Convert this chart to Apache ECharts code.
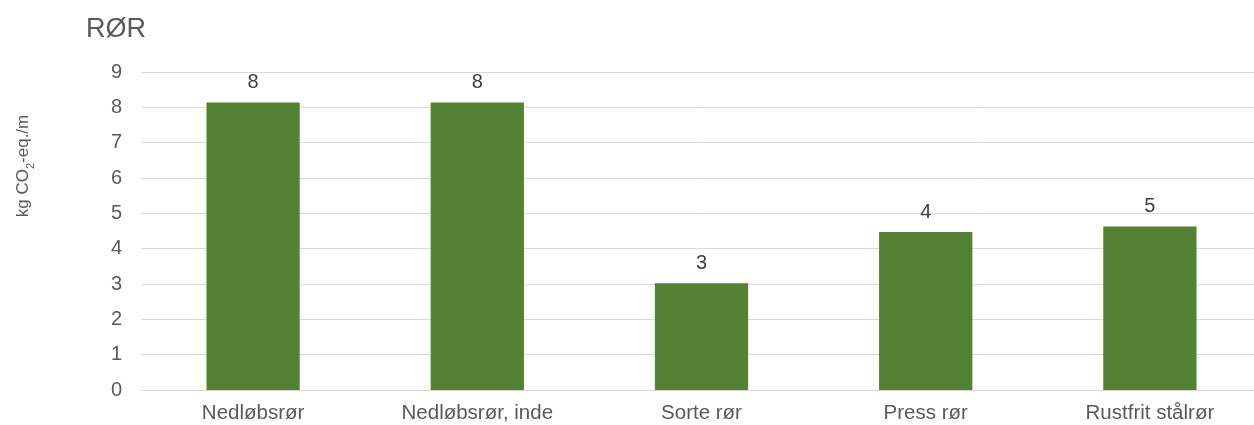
<!DOCTYPE html>
<html>
<head>
<meta charset="utf-8">
<script src="https://cdn.jsdelivr.net/npm/echarts@6/dist/echarts.min.js"></script>
<style>
  html, body { margin: 0; padding: 0; background: #ffffff; overflow: hidden; }
  /* the plot area runs slightly past the right edge of the window */
  #chart { width: 1262px; height: 425px; }
</style>
</head>
<body>
<div id="chart"></div>
<script>
// Pipe types and their embodied carbon per metre
const categories = ['Nedløbsrør', 'Nedløbsrør, inde', 'Sorte rør', 'Press rør', 'Rustfrit stålrør'];
const values = [8.14, 8.14, 3.02, 4.47, 4.63];
const yTicks = [0, 1, 2, 3, 4, 5, 6, 7, 8, 9];

const textColor = '#595959';
const fontFamily = 'Liberation Sans, Arial, sans-serif';

const chart = echarts.init(document.getElementById('chart'), null, { renderer: 'canvas' });

chart.setOption({
  animation: false,
  backgroundColor: '#ffffff',
  title: {
    text: 'RØR',
    left: 81,
    top: 11,
    textStyle: { color: textColor, fontSize: 27, fontWeight: 'normal', fontFamily: fontFamily }
  },
  // unit label for the value axis, with a subscript 2
  graphic: [{
    type: 'text',
    x: 21,
    y: 166,
    rotation: Math.PI / 2,
    style: {
      text: '{a|kg CO}{s|2}{a|-eq./m}',
      align: 'center',
      verticalAlign: 'middle',
      rich: {
        a: { fill: textColor, fontSize: 17, fontFamily: fontFamily, lineHeight: 22, verticalAlign: 'bottom' },
        s: { fill: textColor, fontSize: 11, fontFamily: fontFamily, lineHeight: 22, verticalAlign: 'bottom', padding: [0, 0, -4, 0] }
      }
    }
  }],
  grid: { left: 141, top: 72, bottom: 35, right: 0, containLabel: false },
  xAxis: {
    type: 'category',
    data: categories,
    axisLine: { show: true, lineStyle: { color: '#d9d9d9', width: 1 } },
    axisTick: { show: false },
    axisLabel: { color: textColor, fontSize: 20.5, fontFamily: fontFamily, margin: 13, interval: 0 }
  },
  yAxis: {
    type: 'value',
    min: yTicks[0],
    max: yTicks[yTicks.length - 1],
    interval: 1,
    axisLine: { show: false },
    axisTick: { show: false },
    splitLine: { show: true, lineStyle: { color: '#d9d9d9', width: 1 } },
    axisLabel: { color: textColor, fontSize: 20, fontFamily: fontFamily, margin: 19 }
  },
  series: [{
    type: 'bar',
    data: values,
    barWidth: '41.6%',
    itemStyle: { color: '#548235' },
    label: {
      show: true,
      position: 'top',
      distance: 10,
      color: '#404040',
      fontSize: 20,
      fontFamily: fontFamily,
      formatter: (p) => String(Math.round(p.value))
    }
  }]
});
</script>
</body>
</html>
